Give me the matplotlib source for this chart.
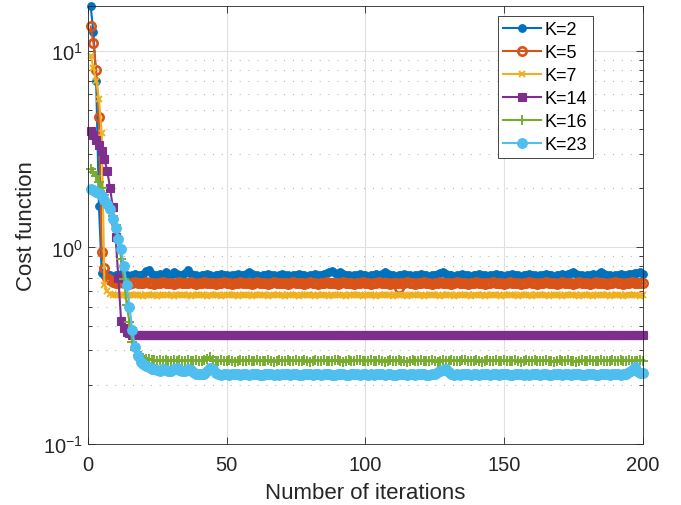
import matplotlib
matplotlib.use("Agg")
import matplotlib.pyplot as plt
from matplotlib.ticker import LogLocator, NullFormatter, FixedLocator

plt.rcParams['font.family'] = ['Liberation Sans', 'DejaVu Sans']
plt.rcParams['mathtext.fontset'] = 'custom'
plt.rcParams['mathtext.rm'] = 'Liberation Sans'
plt.rcParams['mathtext.it'] = 'Liberation Sans:italic'

iterations = list(range(1, 201))
labels = ['K=2', 'K=5', 'K=7', 'K=14', 'K=16', 'K=23']

cost_k2 = [
    16.9, 12.5, 7.0, 1.62, 0.74, 0.72, 0.73, 0.72, 0.71, 0.72,
    0.72, 0.73, 0.72, 0.72, 0.71, 0.72, 0.73, 0.72, 0.72, 0.73,
    0.76, 0.77, 0.73, 0.72, 0.72, 0.73, 0.72, 0.75, 0.73, 0.72,
    0.75, 0.73, 0.72, 0.72, 0.74, 0.77, 0.73, 0.72, 0.72, 0.71,
    0.72, 0.72, 0.73, 0.72, 0.71, 0.72, 0.72, 0.73, 0.72, 0.72,
    0.71, 0.72, 0.72, 0.73, 0.72, 0.72, 0.73, 0.75, 0.73, 0.72,
    0.72, 0.71, 0.72, 0.72, 0.73, 0.72, 0.72, 0.71, 0.72, 0.73,
    0.72, 0.72, 0.71, 0.72, 0.72, 0.73, 0.72, 0.72, 0.71, 0.72,
    0.72, 0.73, 0.72, 0.72, 0.73, 0.74, 0.75, 0.76, 0.74, 0.73,
    0.75, 0.73, 0.72, 0.72, 0.71, 0.72, 0.72, 0.73, 0.72, 0.72,
    0.71, 0.72, 0.72, 0.73, 0.72, 0.73, 0.75, 0.73, 0.72, 0.72,
    0.71, 0.72, 0.72, 0.73, 0.72, 0.72, 0.71, 0.72, 0.72, 0.73,
    0.72, 0.72, 0.71, 0.72, 0.72, 0.73, 0.74, 0.75, 0.73, 0.72,
    0.72, 0.71, 0.72, 0.72, 0.73, 0.72, 0.72, 0.71, 0.72, 0.72,
    0.73, 0.72, 0.72, 0.71, 0.72, 0.72, 0.73, 0.72, 0.72, 0.71,
    0.72, 0.72, 0.73, 0.72, 0.72, 0.71, 0.72, 0.72, 0.73, 0.72,
    0.72, 0.71, 0.72, 0.72, 0.73, 0.72, 0.72, 0.71, 0.72, 0.72,
    0.73, 0.72, 0.73, 0.74, 0.75, 0.73, 0.72, 0.72, 0.71, 0.72,
    0.72, 0.73, 0.72, 0.73, 0.75, 0.73, 0.72, 0.72, 0.71, 0.72,
    0.72, 0.73, 0.72, 0.72, 0.73, 0.73, 0.74, 0.74, 0.75, 0.73,
]

cost_k5 = [
    13.3, 11.0, 8.0, 4.6, 0.95, 0.79, 0.70, 0.68, 0.67, 0.66,
    0.66, 0.67, 0.66, 0.66, 0.65, 0.66, 0.67, 0.66, 0.66, 0.66,
    0.67, 0.66, 0.66, 0.65, 0.66, 0.66, 0.67, 0.66, 0.66, 0.66,
    0.65, 0.66, 0.67, 0.66, 0.66, 0.66, 0.67, 0.66, 0.65, 0.66,
    0.66, 0.67, 0.66, 0.66, 0.66, 0.65, 0.66, 0.66, 0.67, 0.66,
    0.66, 0.65, 0.66, 0.66, 0.67, 0.66, 0.66, 0.66, 0.65, 0.66,
    0.67, 0.66, 0.66, 0.66, 0.65, 0.66, 0.67, 0.66, 0.66, 0.66,
    0.66, 0.65, 0.66, 0.67, 0.66, 0.66, 0.66, 0.65, 0.66, 0.67,
    0.66, 0.66, 0.65, 0.66, 0.66, 0.67, 0.66, 0.66, 0.66, 0.65,
    0.66, 0.67, 0.66, 0.66, 0.66, 0.65, 0.66, 0.66, 0.67, 0.66,
    0.66, 0.65, 0.66, 0.66, 0.67, 0.66, 0.66, 0.66, 0.65, 0.66,
    0.66, 0.62, 0.66, 0.66, 0.67, 0.66, 0.66, 0.65, 0.66, 0.66,
    0.67, 0.66, 0.66, 0.65, 0.66, 0.66, 0.67, 0.66, 0.66, 0.66,
    0.65, 0.66, 0.67, 0.66, 0.66, 0.66, 0.65, 0.66, 0.66, 0.67,
    0.66, 0.66, 0.65, 0.66, 0.66, 0.67, 0.66, 0.66, 0.66, 0.65,
    0.66, 0.67, 0.66, 0.66, 0.66, 0.65, 0.66, 0.66, 0.67, 0.66,
    0.66, 0.65, 0.66, 0.66, 0.67, 0.66, 0.66, 0.66, 0.65, 0.66,
    0.67, 0.66, 0.66, 0.66, 0.65, 0.66, 0.67, 0.66, 0.66, 0.66,
    0.65, 0.66, 0.67, 0.66, 0.66, 0.66, 0.65, 0.66, 0.66, 0.67,
    0.66, 0.66, 0.65, 0.66, 0.66, 0.67, 0.66, 0.66, 0.66, 0.66,
]

cost_k7 = [
    9.4, 8.2, 7.0, 5.7, 3.8, 0.64, 0.60, 0.58, 0.575, 0.57,
    0.57, 0.572, 0.57, 0.568, 0.57, 0.57, 0.572, 0.57, 0.57, 0.568,
    0.57, 0.57, 0.572, 0.57, 0.568, 0.57, 0.57, 0.57, 0.572, 0.57,
    0.568, 0.57, 0.57, 0.572, 0.57, 0.57, 0.568, 0.57, 0.57, 0.572,
    0.57, 0.57, 0.568, 0.57, 0.572, 0.57, 0.57, 0.568, 0.57, 0.57,
    0.572, 0.57, 0.57, 0.568, 0.57, 0.57, 0.572, 0.57, 0.568, 0.57,
    0.57, 0.572, 0.57, 0.57, 0.568, 0.57, 0.57, 0.572, 0.57, 0.57,
    0.568, 0.57, 0.572, 0.57, 0.57, 0.568, 0.57, 0.57, 0.572, 0.57,
    0.57, 0.568, 0.57, 0.57, 0.572, 0.57, 0.568, 0.57, 0.57, 0.572,
    0.57, 0.57, 0.568, 0.57, 0.57, 0.572, 0.57, 0.57, 0.568, 0.57,
    0.572, 0.57, 0.57, 0.568, 0.57, 0.57, 0.572, 0.57, 0.57, 0.568,
    0.57, 0.57, 0.572, 0.57, 0.568, 0.57, 0.57, 0.572, 0.57, 0.57,
    0.568, 0.57, 0.57, 0.572, 0.57, 0.57, 0.568, 0.57, 0.572, 0.57,
    0.57, 0.568, 0.57, 0.57, 0.572, 0.57, 0.57, 0.568, 0.57, 0.57,
    0.572, 0.57, 0.568, 0.57, 0.57, 0.572, 0.57, 0.57, 0.568, 0.57,
    0.57, 0.572, 0.57, 0.57, 0.568, 0.57, 0.572, 0.57, 0.57, 0.568,
    0.57, 0.57, 0.572, 0.57, 0.57, 0.568, 0.57, 0.57, 0.572, 0.57,
    0.568, 0.57, 0.57, 0.572, 0.57, 0.57, 0.568, 0.57, 0.572, 0.57,
    0.57, 0.568, 0.57, 0.57, 0.572, 0.57, 0.57, 0.568, 0.57, 0.57,
    0.572, 0.57, 0.568, 0.57, 0.57, 0.572, 0.57, 0.57, 0.568, 0.57,
]

cost_k14 = [
    3.9, 3.75, 3.5, 3.3, 3.1, 2.8, 2.45, 2.0, 1.6, 1.13,
    0.70, 0.42, 0.39, 0.37, 0.365, 0.36, 0.358, 0.358, 0.357, 0.358,
    0.358, 0.359, 0.358, 0.357, 0.358, 0.358, 0.36, 0.358, 0.357, 0.358,
    0.358, 0.357, 0.358, 0.359, 0.358, 0.358, 0.357, 0.358, 0.358, 0.36,
    0.358, 0.357, 0.358, 0.358, 0.359, 0.358, 0.357, 0.358, 0.358, 0.358,
    0.357, 0.358, 0.359, 0.358, 0.358, 0.357, 0.358, 0.358, 0.36, 0.358,
    0.358, 0.357, 0.358, 0.358, 0.359, 0.358, 0.357, 0.358, 0.358, 0.358,
    0.359, 0.358, 0.357, 0.358, 0.358, 0.358, 0.357, 0.358, 0.359, 0.358,
    0.358, 0.357, 0.358, 0.358, 0.36, 0.358, 0.357, 0.358, 0.358, 0.358,
    0.357, 0.358, 0.359, 0.358, 0.358, 0.357, 0.358, 0.358, 0.358, 0.359,
    0.358, 0.357, 0.358, 0.358, 0.358, 0.36, 0.358, 0.357, 0.358, 0.358,
    0.358, 0.357, 0.358, 0.359, 0.358, 0.358, 0.357, 0.358, 0.358, 0.358,
    0.359, 0.358, 0.357, 0.358, 0.358, 0.358, 0.357, 0.358, 0.36, 0.358,
    0.358, 0.357, 0.358, 0.358, 0.359, 0.358, 0.357, 0.358, 0.358, 0.358,
    0.357, 0.358, 0.359, 0.358, 0.358, 0.357, 0.358, 0.358, 0.358, 0.36,
    0.358, 0.357, 0.358, 0.358, 0.359, 0.358, 0.357, 0.358, 0.358, 0.358,
    0.357, 0.358, 0.359, 0.358, 0.358, 0.357, 0.358, 0.358, 0.36, 0.358,
    0.358, 0.357, 0.358, 0.358, 0.359, 0.358, 0.357, 0.358, 0.358, 0.358,
    0.357, 0.358, 0.359, 0.358, 0.358, 0.357, 0.358, 0.358, 0.358, 0.359,
    0.358, 0.357, 0.358, 0.358, 0.358, 0.36, 0.358, 0.357, 0.358, 0.358,
]

cost_k16 = [
    2.5, 2.42, 2.3, 2.15, 2.0, 1.85, 1.7, 1.6, 1.45, 1.3,
    1.12, 0.87, 0.69, 0.51, 0.415, 0.33, 0.30, 0.285, 0.28, 0.275,
    0.272, 0.27, 0.268, 0.267, 0.265, 0.266, 0.264, 0.266, 0.265, 0.263,
    0.266, 0.264, 0.267, 0.265, 0.263, 0.266, 0.265, 0.264, 0.267, 0.265,
    0.263, 0.266, 0.27, 0.277, 0.268, 0.265, 0.263, 0.266, 0.264, 0.265,
    0.267, 0.264, 0.262, 0.265, 0.266, 0.263, 0.265, 0.267, 0.264, 0.263,
    0.266, 0.265, 0.263, 0.264, 0.267, 0.265, 0.262, 0.264, 0.266, 0.265,
    0.263, 0.266, 0.264, 0.265, 0.267, 0.263, 0.264, 0.266, 0.265, 0.262,
    0.265, 0.267, 0.264, 0.263, 0.266, 0.265, 0.263, 0.264, 0.266, 0.267,
    0.264, 0.262, 0.265, 0.266, 0.264, 0.263, 0.266, 0.268, 0.265, 0.263,
    0.264, 0.266, 0.265, 0.263, 0.267, 0.264, 0.262, 0.265, 0.266, 0.264,
    0.263, 0.266, 0.265, 0.264, 0.262, 0.265, 0.267, 0.264, 0.263, 0.266,
    0.265, 0.263, 0.264, 0.266, 0.265, 0.262, 0.264, 0.267, 0.265, 0.263,
    0.266, 0.264, 0.265, 0.263, 0.266, 0.268, 0.264, 0.263, 0.265, 0.266,
    0.264, 0.262, 0.265, 0.266, 0.263, 0.265, 0.267, 0.264, 0.263, 0.266,
    0.265, 0.263, 0.264, 0.266, 0.265, 0.262, 0.264, 0.266, 0.265, 0.263,
    0.266, 0.264, 0.265, 0.263, 0.267, 0.265, 0.264, 0.262, 0.265, 0.266,
    0.264, 0.263, 0.266, 0.265, 0.264, 0.262, 0.265, 0.267, 0.264, 0.263,
    0.266, 0.265, 0.263, 0.264, 0.266, 0.265, 0.263, 0.264, 0.266, 0.265,
    0.263, 0.266, 0.264, 0.265, 0.267, 0.264, 0.263, 0.265, 0.266, 0.264,
]

cost_k23 = [
    1.98, 1.95, 1.92, 1.88, 1.83, 1.75, 1.66, 1.56, 1.40, 1.25,
    1.10, 0.98, 0.80, 0.64, 0.50, 0.38, 0.31, 0.28, 0.26, 0.255,
    0.25, 0.245, 0.24, 0.24, 0.238, 0.236, 0.24, 0.238, 0.235, 0.236,
    0.24, 0.244, 0.238, 0.235, 0.236, 0.24, 0.238, 0.232, 0.228, 0.226,
    0.226, 0.228, 0.236, 0.244, 0.24, 0.23, 0.226, 0.225, 0.226, 0.227,
    0.225, 0.226, 0.228, 0.226, 0.224, 0.226, 0.227, 0.225, 0.226, 0.228,
    0.226, 0.225, 0.224, 0.226, 0.228, 0.227, 0.225, 0.226, 0.224, 0.226,
    0.228, 0.226, 0.225, 0.226, 0.227, 0.225, 0.224, 0.226, 0.228, 0.226,
    0.225, 0.226, 0.227, 0.225, 0.226, 0.228, 0.226, 0.224, 0.225, 0.226,
    0.227, 0.226, 0.225, 0.224, 0.226, 0.228, 0.226, 0.225, 0.226, 0.227,
    0.225, 0.226, 0.224, 0.226, 0.228, 0.226, 0.225, 0.226, 0.227, 0.225,
    0.224, 0.226, 0.228, 0.226, 0.225, 0.226, 0.227, 0.225, 0.226, 0.228,
    0.226, 0.225, 0.224, 0.226, 0.228, 0.232, 0.236, 0.238, 0.241, 0.232,
    0.227, 0.225, 0.226, 0.224, 0.226, 0.228, 0.226, 0.225, 0.226, 0.227,
    0.225, 0.226, 0.228, 0.226, 0.224, 0.226, 0.227, 0.225, 0.226, 0.228,
    0.226, 0.225, 0.224, 0.226, 0.228, 0.227, 0.225, 0.226, 0.224, 0.226,
    0.228, 0.226, 0.225, 0.226, 0.227, 0.225, 0.224, 0.226, 0.228, 0.226,
    0.225, 0.226, 0.227, 0.225, 0.226, 0.228, 0.226, 0.224, 0.225, 0.226,
    0.227, 0.226, 0.225, 0.224, 0.226, 0.228, 0.226, 0.225, 0.226, 0.227,
    0.226, 0.225, 0.226, 0.228, 0.232, 0.238, 0.247, 0.236, 0.23, 0.229,
]

series = [cost_k2, cost_k5, cost_k7, cost_k14, cost_k16, cost_k23]
colors = ['#0072BD', '#D95319', '#EDB120', '#7E2F8E', '#77AC30', '#4DBEEE']
styles = [
    dict(marker='o', markersize=5.5, markerfacecolor='#0072BD', markeredgewidth=0.8),
    dict(marker='o', markersize=6, markerfacecolor='none', markeredgewidth=1.9),
    dict(marker='x', markersize=4.5, markeredgewidth=1.4),
    dict(marker='s', markersize=5.2, markerfacecolor='#7E2F8E', markeredgewidth=0.8),
    dict(marker='+', markersize=6.5, markeredgewidth=1.4),
    dict(marker='o', markersize=7, markerfacecolor='#4DBEEE', markeredgewidth=0.8),
]

fig = plt.figure(figsize=(6.81, 5.06), dpi=100)
ax = fig.add_axes([0.129, 0.1206, 0.815, 0.8656])

for y, c, lab, st in zip(series, colors, labels, styles):
    ax.plot(iterations, y, color=c, linewidth=1.5, label=lab, clip_on=False, **st)

ax.set_yscale('log')
ax.set_xlim(0, 200)
ax.set_ylim(0.1, 16.9)
ax.set_xticks([0, 50, 100, 150, 200])
ax.yaxis.set_major_locator(FixedLocator([0.1, 1, 10]))
ax.yaxis.set_minor_locator(LogLocator(base=10, subs=range(2, 10)))
ax.yaxis.set_minor_formatter(NullFormatter())

ax.set_axisbelow(True)
ax.grid(True, which='major', color='#e0e0e0', linewidth=0.8, linestyle='-')
ax.yaxis.grid(True, which='minor', color='#b8b8b8', linewidth=0.8, linestyle=(0, (1, 7)))

ax.tick_params(which='both', direction='in', top=True, right=True, colors='#262626',
               labelcolor='#262626', labelsize=14.5)
ax.tick_params(which='major', length=5, width=0.6)
ax.tick_params(which='minor', length=3, width=0.6)
ax.tick_params(axis='x', which='major', pad=8)
for s in ax.spines.values():
    s.set_color('#262626')
    s.set_linewidth(0.6)

ax.set_xlabel('Number of iterations', fontsize=16, color='#262626', labelpad=6)
ax.set_ylabel('Cost function', fontsize=16, color='#262626', labelpad=4)

leg = ax.legend(loc='upper right', bbox_to_anchor=(0.91, 0.978), fontsize=13,
                fancybox=False, framealpha=1, edgecolor='#262626', handlelength=2.1,
                labelspacing=0.33, borderpad=0.3, handletextpad=0.2, borderaxespad=0)
leg.get_frame().set_linewidth(0.6)

fig.savefig('out.png', dpi=100)
